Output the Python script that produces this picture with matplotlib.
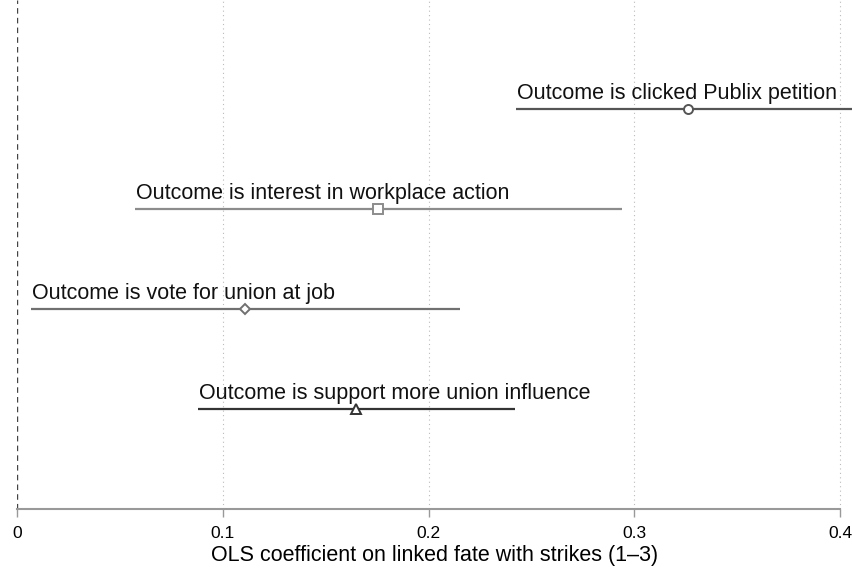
import matplotlib
matplotlib.use("Agg")
import matplotlib.pyplot as plt

labels = [
    "Outcome is clicked Publix petition",
    "Outcome is interest in workplace action",
    "Outcome is vote for union at job",
    "Outcome is support more union influence",
]
coef = [0.326, 0.1755, 0.1108, 0.1648]
ci_low = [0.2425, 0.0573, 0.0068, 0.088]
ci_high = [0.41, 0.294, 0.2153, 0.242]
rows = [4, 3, 2, 1]
markers = ["o", "s", "D", "^"]
colors = ["#555555", "#8c8c8c", "#707070", "#333333"]
xticks = [0, 0.1, 0.2, 0.3, 0.4]

fig = plt.figure(figsize=(8.52, 5.69), dpi=100)
ax = fig.add_axes([17 / 852, 1 - 509 / 569, 835 / 852, 509 / 569])
ax.set_xlim(0, 0.4058)
ax.set_ylim(0, 5.09)

for x in xticks[1:]:
    ax.axvline(x, color="#bbbbbb", linestyle=(0, (1, 3)), linewidth=0.8, zorder=0)
ax.axvline(0, color="#444444", linestyle=(0, (4, 3)), linewidth=1.0, zorder=1)

for lab, c, lo, hi, y, m, col in zip(labels, coef, ci_low, ci_high, rows, markers, colors):
    ax.plot([lo, hi], [y, y], color=col, linewidth=1.6, solid_capstyle="butt", zorder=2)
    ms = 6.5 if m != "D" else 5.5
    ax.plot([c], [y], marker=m, markersize=ms, markerfacecolor="white",
            markeredgecolor=col, markeredgewidth=1.4, linestyle="none", zorder=3)
    ax.text(lo + 0.0005, y + 0.1, lab, fontsize=15.5, family="Liberation Sans",
            color="#111111", ha="left", va="baseline")

for s in ["top", "right", "left"]:
    ax.spines[s].set_visible(False)
ax.spines["bottom"].set_bounds(0, 0.4)
ax.spines["bottom"].set_color("#999999")
ax.spines["bottom"].set_linewidth(1.5)
ax.set_yticks([])
ax.set_xticks(xticks)
ax.set_xticklabels(["0", "0.1", "0.2", "0.3", "0.4"],
                   family="Liberation Sans", fontsize=12.5)
ax.tick_params(axis="x", length=6, color="#999999", width=1, pad=6)
ax.set_xlabel("OLS coefficient on linked fate with strikes (1\u20133)",
              family="Liberation Sans", fontsize=15.5, labelpad=3)

fig.savefig("out.png", dpi=100)
